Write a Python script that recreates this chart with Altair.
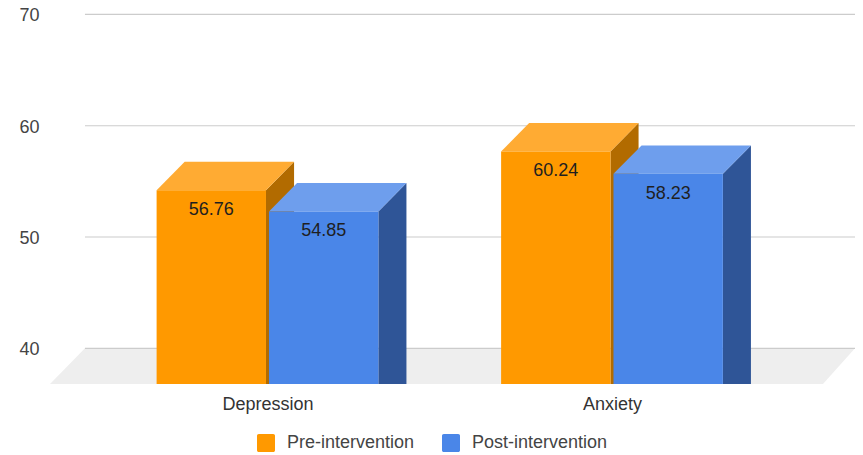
import altair as alt
import pandas as pd

categories = ["Depression", "Anxiety"]
series = ["Pre-intervention", "Post-intervention"]
pre_values = [56.76, 60.24]
post_values = [54.85, 58.23]
y_ticks = [40, 50, 60, 70]

front_colors = ["#ff9900", "#4a86e8"]
top_colors = ["#ffab33", "#6e9eed"]
side_colors = ["#b26b00", "#2f5597"]

FONT = "Liberation Sans"
FS = 18
Y_MIN, Y_MAX = 36.79, 70.58
X_MIN, X_MAX = -0.6313, 1.7054
BAR_W, GAP = 0.3175, 0.0087
DX, DV = 0.0815, 2.55
FLOOR_L, WALL_L, FLOOR_R = -0.6313, -0.5298, 1.6125

front, side, top, labels = [], [], [], []
for s, vals in enumerate([pre_values, post_values]):
    for c, v in enumerate(vals):
        xl = c - BAR_W - GAP / 2 if s == 0 else c + GAP / 2
        xr = xl + BAR_W
        key = f"{c}-{s}"
        front.append(dict(xl=xl, xr=xr, v=v - DV, base=Y_MIN, series=series[s]))
        side.append(dict(x=xr, y=v - DV, base=Y_MIN, key=key, col=side_colors[s]))
        side.append(dict(x=xr + DX, y=v, base=Y_MIN, key=key, col=side_colors[s]))
        top.append(dict(y=v - DV, xa=xl, xb=xr, key=key, col=top_colors[s]))
        top.append(dict(y=v, xa=xl + DX, xb=xr + DX, key=key, col=top_colors[s]))
        labels.append(dict(x=(xl + xr) / 2, y=v - DV, t=f"{v:.2f}"))

x_scale = alt.Scale(domain=[X_MIN, X_MAX], nice=False, zero=False)
y_scale = alt.Scale(domain=[Y_MIN, Y_MAX], nice=False, zero=False)
x_axis = alt.Axis(
    values=[0, 1], title=None, domain=False, ticks=False, grid=False,
    labelFont=FONT, labelFontSize=FS, labelColor="#333333", labelPadding=11,
    labelExpr=f"datum.value == 0 ? '{categories[0]}' : '{categories[1]}'")
y_axis = alt.Axis(
    values=y_ticks, title=None, domain=False, ticks=False, grid=False,
    labelFont=FONT, labelFontSize=FS, labelColor="#444444", labelPadding=11,
    labelOffset=1.5)

floor = alt.Chart(pd.DataFrame([
    dict(y=Y_MIN, xa=FLOOR_L, xb=FLOOR_R),
    dict(y=40, xa=WALL_L, xb=X_MAX),
])).mark_area(orient="horizontal", color="#eeeeee").encode(
    y=alt.Y("y:Q", scale=y_scale, axis=y_axis),
    x=alt.X("xa:Q", scale=x_scale, axis=x_axis),
    x2="xb:Q",
)

grid = alt.Chart(pd.DataFrame(dict(v=y_ticks, a=WALL_L, b=X_MAX))).mark_rule(
    color="#cccccc", strokeWidth=1.2
).encode(
    y=alt.Y("v:Q", scale=y_scale, axis=y_axis),
    x=alt.X("a:Q", scale=x_scale, axis=x_axis),
    x2="b:Q",
)

sides = alt.Chart(pd.DataFrame(side)).mark_area().encode(
    x=alt.X("x:Q", scale=x_scale, axis=x_axis),
    y=alt.Y("y:Q", scale=y_scale, axis=y_axis),
    y2="base:Q",
    detail="key:N",
    color=alt.Color("col:N", scale=None),
)

tops = alt.Chart(pd.DataFrame(top)).mark_area(orient="horizontal").encode(
    y=alt.Y("y:Q", scale=y_scale, axis=y_axis),
    x=alt.X("xa:Q", scale=x_scale, axis=x_axis),
    x2="xb:Q",
    detail="key:N",
    color=alt.Color("col:N", scale=None),
)

rounded = "M-0.8,-1H0.8A0.2,0.2,0,0,1,1,-0.8V0.8A0.2,0.2,0,0,1,0.8,1H-0.8A0.2,0.2,0,0,1,-1,0.8V-0.8A0.2,0.2,0,0,1,-0.8,-1Z"

fronts = alt.Chart(pd.DataFrame(front)).mark_rect().encode(
    x=alt.X("xl:Q", scale=x_scale, axis=x_axis),
    x2="xr:Q",
    y=alt.Y("v:Q", scale=y_scale, axis=y_axis),
    y2="base:Q",
    color=alt.Color("series:N", scale=alt.Scale(domain=series, range=front_colors), legend=alt.Legend(
        title=None, orient="none", direction="horizontal", legendX=207, legendY=426,
        symbolType=rounded, symbolSize=324, symbolStrokeWidth=0, padding=0,
        labelFont=FONT, labelFontSize=FS, labelColor="#444444", labelOffset=12,
        columnPadding=27, symbolOpacity=1)),
)

texts = alt.Chart(pd.DataFrame(labels)).mark_text(
    font=FONT, fontSize=FS, color="#1f1f1f", baseline="middle", dy=20
).encode(
    x=alt.X("x:Q", scale=x_scale, axis=x_axis),
    y=alt.Y("y:Q", scale=y_scale, axis=y_axis),
    text="t:N",
)

chart = alt.layer(floor, grid, sides, tops, fronts, texts).resolve_scale(
    color="independent"
).properties(
    width=805, height=376,
    padding={"left": 42, "top": 0, "right": 0, "bottom": 71},
    autosize=alt.AutoSizeParams(type="none"),
    background="white",
).configure_view(stroke=None)

chart.save("out.html", embed_options={"renderer": "svg", "actions": False})
